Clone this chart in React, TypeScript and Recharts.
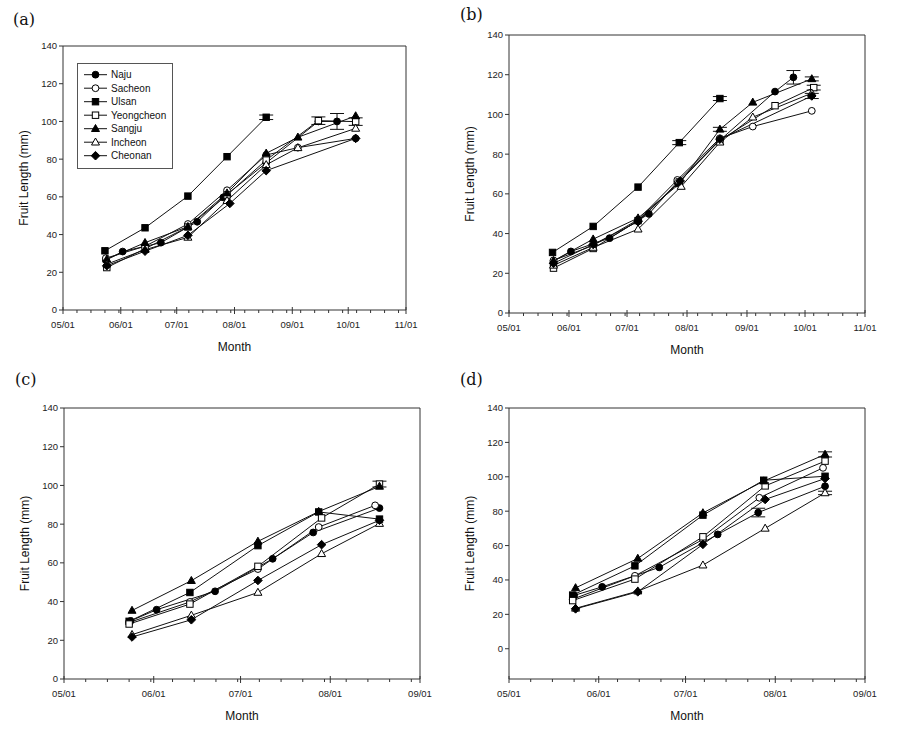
import React from "react";
import {
  LineChart,
  Line,
  XAxis,
  YAxis,
  ErrorBar,
  ReferenceLine,
  Legend,
} from "recharts";

// sites, in legend order
const siteNames = ["Naju", "Sacheon", "Ulsan", "Yeongcheon", "Sangju", "Incheon", "Cheonan"];
const siteShapes = ["circle", "circle", "square", "square", "triangle", "triangle", "diamond"];
const siteFilled = [true, false, true, false, true, false, true];

// x axis: days after 05/01
const longMonthDays = [0, 31, 61, 92, 123, 153, 184];
const longMonthLabels = ["05/01", "06/01", "07/01", "08/01", "09/01", "10/01", "11/01"];
const shortMonthDays = [0, 31, 61, 92, 123];
const shortMonthLabels = ["05/01", "06/01", "07/01", "08/01", "09/01"];
const lengthTicks = [0, 20, 40, 60, 80, 100, 120, 140];

// [day, fruit length (mm), error]
type Pt = [number, number, number?];

// (a)
const aNaju: Pt[] = [[23, 26.5], [32, 31], [52.5, 35.7], [72, 46.8], [86, 59.7], [109, 78], [137, 100], [147, 100, 4.2]];
const aSacheon: Pt[] = [[23, 27.5], [44, 33.8], [67, 45.6], [88, 63.5], [109, 82.2], [126, 86.1], [157, 91]];
const aUlsan: Pt[] = [[22.5, 31.4], [44, 43.6], [67, 60.4], [88, 81.3], [109, 102.2, 1.2]];
const aYeongcheon: Pt[] = [[23.5, 22.5], [44, 32.5], [67, 44], [88, 61], [109, 79.5], [137, 100.4, 2], [157, 99.9, 2]];
const aSangju: Pt[] = [[23.5, 26.9], [44, 35.7], [67, 44.2], [88, 62], [109, 83.1], [126, 91.6], [157, 102.9]];
const aIncheon: Pt[] = [[23.5, 24.3], [44, 32], [67, 38.5], [88, 58], [109, 77], [126, 86], [157, 96.3]];
const aCheonan: Pt[] = [[23.5, 23.5], [44, 31.2], [67, 39.6], [89.5, 56.5], [109, 73.9], [157, 91]];

// (b)
const bNaju: Pt[] = [[23, 26], [32, 31], [52, 37.7], [72.3, 49.9], [87, 66], [109, 87], [137.5, 111.5], [147, 118.7, 3.4]];
const bSacheon: Pt[] = [[23, 26.5], [43.5, 34], [66.7, 47], [87, 67], [109, 88], [126, 93.9], [156.5, 101.8]];
const bUlsan: Pt[] = [[22.5, 30.5], [43.5, 43.6], [66.7, 63.4], [88, 85.8, 1], [109, 108, 1]];
const bYeongcheon: Pt[] = [[23, 22.6], [43.5, 32.5], [66.7, 46.5], [88, 66], [109, 87], [137.5, 104.4], [157.5, 113.5, 1.2]];
const bSangju: Pt[] = [[23, 26.3], [43.5, 37.2], [66.7, 47.8], [88, 65], [109, 92.5, 1], [126, 106.1], [156.5, 117.9, 1]];
const bIncheon: Pt[] = [[23, 24], [43.5, 33], [66.7, 42.2], [89, 63.7], [109, 86], [126, 98.6], [156.5, 110.7]];
const bCheonan: Pt[] = [[23, 25], [43.5, 34.5], [66.7, 46], [88.5, 66.5], [109, 87.5], [156.5, 109.3, 1.3]];

// (c)
const cNaju: Pt[] = [[23, 30], [32, 35.8], [52.2, 45.3], [72.1, 62.1], [86.1, 75.7], [109, 88.3]];
const cSacheon: Pt[] = [[22.5, 29.2], [43.5, 39.8], [67, 56.8], [88, 78.5], [107.5, 89.7]];
const cUlsan: Pt[] = [[22.5, 29.8], [43.5, 44.7], [67, 68.9], [88, 86.3], [109, 82.6]];
const cYeongcheon: Pt[] = [[22.5, 28.4], [43.5, 38.7], [67, 58.2], [89, 83.2], [109, 100.7, 1.5]];
const cSangju: Pt[] = [[23.5, 35.4], [44, 50.8], [67, 71.1], [88, 86.5], [109, 99.5]];
const cIncheon: Pt[] = [[23.5, 22.9], [44, 32.9], [67, 44.7], [89, 64.7], [109, 80.3]];
const cCheonan: Pt[] = [[23.5, 21.7], [44, 30.6], [67, 50.9], [89, 69.4], [109, 82]];

// (d)
const dNaju: Pt[] = [[22.5, 31], [32.2, 36], [51.9, 47.3], [72.1, 66.5], [86.1, 79.2, 2.5], [109.2, 94.5]];
const dSacheon: Pt[] = [[22, 28.8], [43.5, 42.4], [67, 63.5], [86.5, 87.8], [108.5, 105.2]];
const dUlsan: Pt[] = [[22, 31.2], [43.5, 48.2], [67, 77.7], [88, 98], [109.2, 100.3]];
const dYeongcheon: Pt[] = [[22, 28], [43.5, 40.5], [67, 65.1], [88.5, 94.7], [109.2, 109.1]];
const dSangju: Pt[] = [[23, 35.4], [44.5, 52.5], [67, 79], [88, 97.5], [109.2, 113, 1.5]];
const dIncheon: Pt[] = [[23, 23.5], [44.5, 33.5], [67, 48.6], [88.5, 70], [109.2, 90.6, 1]];
const dCheonan: Pt[] = [[23, 23.2], [44.5, 33.1], [67, 60.7], [88.5, 86.8], [109.2, 99]];

const FONT = "'Liberation Sans', Arial, sans-serif";
const INK = "#111";
const AXIS = "#333";

function Marker({ cx, cy, shape, filled }: { cx: number; cy: number; shape: string; filled: boolean }) {
  const style = { fill: filled ? "#000" : "#fff", stroke: "#000", strokeWidth: 1 };
  if (shape === "circle") return <circle cx={cx} cy={cy} r={3.4} {...style} />;
  if (shape === "square") return <rect x={cx - 3.2} y={cy - 3.2} width={6.4} height={6.4} {...style} />;
  if (shape === "triangle")
    return <polygon points={`${cx},${cy - 4.2} ${cx - 4},${cy + 2.8} ${cx + 4},${cy + 2.8}`} {...style} />;
  return <polygon points={`${cx},${cy - 4.3} ${cx + 4.3},${cy} ${cx},${cy + 4.3} ${cx - 4.3},${cy}`} {...style} />;
}

function LegendBox() {
  return (
    <svg width={96} height={106} style={{ display: "block" }}>
      <rect x={0.5} y={0.5} width={95} height={105} fill="#fff" stroke="#555" />
      {siteNames.map((name, i) => {
        const cy = 11.7 + i * 13.5;
        return (
          <g key={name}>
            <line x1={7} x2={30} y1={cy} y2={cy} stroke={INK} />
            <Marker cx={18.5} cy={cy} shape={siteShapes[i]} filled={siteFilled[i]} />
            <text x={34} y={cy + 3.6} fontSize={10} fontFamily={FONT} fill={INK}>
              {name}
            </text>
          </g>
        );
      })}
    </svg>
  );
}

interface PanelProps {
  tag: string;
  tagX: number;
  tagY: number;
  series: Pt[][];
  xMax: number;
  monthDays: number[];
  monthLabels: string[];
  yMin: number;
  plotX: number;
  plotY: number;
  plotW: number;
  plotH: number;
  legend?: boolean;
}

const Y_W = 63;
const M_TOP = 16;
const X_H = 50;
const M_RIGHT = 12;

function Panel(props: PanelProps) {
  const { series, xMax, monthDays, monthLabels, yMin, plotX, plotY, plotW, plotH } = props;
  const width = Y_W + plotW + M_RIGHT;
  const height = M_TOP + plotH + X_H;

  const minor: number[] = [];
  for (let d = 7.5; d < xMax; d += 7.5) minor.push(d);
  const ticks = [...monthDays, ...minor].sort((a, b) => a - b);

  const dateTick = (p: any) => {
    const v = p.payload.value;
    const idx = monthDays.indexOf(v);
    if (idx < 0) {
      return <line x1={p.x} x2={p.x} y1={p.y} y2={p.y + 3} stroke={AXIS} />;
    }
    return (
      <g>
        <line x1={p.x} x2={p.x} y1={p.y - 3} y2={p.y + 4} stroke={AXIS} />
        <text x={p.x} y={p.y + 18} textAnchor="middle" fontSize={9.5} fontFamily={FONT} fill="#222">
          {monthLabels[idx]}
        </text>
      </g>
    );
  };

  const yLabel = (p: any) => {
    const vb = p.viewBox;
    const cx = vb.x + vb.width - 39;
    const cy = vb.y + vb.height / 2;
    return (
      <text
        x={cx}
        y={cy + 4}
        transform={`rotate(-90 ${cx} ${cy})`}
        textAnchor="middle"
        fontSize={12}
        fontFamily={FONT}
        fill={INK}
      >
        Fruit Length (mm)
      </text>
    );
  };

  return (
    <>
      <div
        style={{
          position: "absolute",
          left: props.tagX,
          top: props.tagY - 9,
          fontFamily: "'DejaVu Serif', serif",
          fontSize: 16,
          lineHeight: "18px",
          color: "#111",
        }}
      >
        {props.tag}
      </div>
      <div style={{ position: "absolute", left: plotX - Y_W, top: plotY - M_TOP }}>
        <LineChart width={width} height={height} margin={{ top: M_TOP, right: M_RIGHT, bottom: 0, left: 0 }}>
          <XAxis
            type="number"
            dataKey="x"
            domain={[0, xMax]}
            allowDataOverflow
            ticks={ticks}
            interval={0}
            height={X_H}
            tickLine={false}
            tickSize={0}
            tickMargin={0}
            tick={dateTick}
            axisLine={{ stroke: AXIS }}
            label={{ value: "Month", position: "insideBottom", offset: 9, fontSize: 12, fontFamily: FONT, fill: INK }}
          />
          <YAxis
            type="number"
            domain={[yMin, 140]}
            allowDataOverflow
            ticks={lengthTicks}
            interval={0}
            width={Y_W}
            tickSize={4}
            tickMargin={2}
            tickLine={{ stroke: AXIS }}
            axisLine={{ stroke: AXIS }}
            tick={{ fontSize: 9.5, fontFamily: FONT, fill: "#222" }}
            label={{ content: yLabel }}
          />
          <ReferenceLine x={xMax} stroke={AXIS} />
          <ReferenceLine y={140} stroke={AXIS} />
          {props.legend && (
            <Legend
              layout="vertical"
              align="center"
              verticalAlign="middle"
              content={<LegendBox />}
              wrapperStyle={{ left: 77, top: 33, width: 96, height: 106 }}
            />
          )}
          {series.map((pts, i) => {
            const data = pts.map(([x, y, e]) => ({ x, y, e }));
            const hasErr = pts.some((p) => p[2] !== undefined);
            return (
              <Line
                key={siteNames[i]}
                name={siteNames[i]}
                data={data}
                dataKey="y"
                stroke={INK}
                strokeWidth={1}
                isAnimationActive={false}
                activeDot={false}
                legendType="none"
                dot={(p: any) => (
                  <Marker
                    key={`${siteNames[i]}-${p.index}`}
                    cx={p.cx}
                    cy={p.cy}
                    shape={siteShapes[i]}
                    filled={siteFilled[i]}
                  />
                )}
              >
                {hasErr && <ErrorBar dataKey="e" width={7} stroke={INK} strokeWidth={1} direction="y" />}
              </Line>
            );
          })}
        </LineChart>
      </div>
    </>
  );
}

export default function App() {
  return (
    <div
      style={{
        position: "absolute",
        left: 0,
        top: 0,
        width: 915,
        height: 732,
        background: "#fff",
        fontFamily: FONT,
      }}
    >
      <Panel
        tag="(a)"
        tagX={13}
        tagY={20}
        series={[aNaju, aSacheon, aUlsan, aYeongcheon, aSangju, aIncheon, aCheonan]}
        xMax={184}
        monthDays={longMonthDays}
        monthLabels={longMonthLabels}
        yMin={0}
        plotX={63}
        plotY={46}
        plotW={343}
        plotH={264}
        legend
      />
      <Panel
        tag="(b)"
        tagX={460}
        tagY={15}
        series={[bNaju, bSacheon, bUlsan, bYeongcheon, bSangju, bIncheon, bCheonan]}
        xMax={184}
        monthDays={longMonthDays}
        monthLabels={longMonthLabels}
        yMin={0}
        plotX={509}
        plotY={35}
        plotW={356}
        plotH={278}
      />
      <Panel
        tag="(c)"
        tagX={15}
        tagY={380}
        series={[cNaju, cSacheon, cUlsan, cYeongcheon, cSangju, cIncheon, cCheonan]}
        xMax={123}
        monthDays={shortMonthDays}
        monthLabels={shortMonthLabels}
        yMin={0}
        plotX={64}
        plotY={408}
        plotW={356}
        plotH={271}
      />
      <Panel
        tag="(d)"
        tagX={460}
        tagY={380}
        series={[dNaju, dSacheon, dUlsan, dYeongcheon, dSangju, dIncheon, dCheonan]}
        xMax={123}
        monthDays={shortMonthDays}
        monthLabels={shortMonthLabels}
        yMin={-17.6}
        plotX={509}
        plotY={408}
        plotW={356}
        plotH={271}
      />
    </div>
  );
}
